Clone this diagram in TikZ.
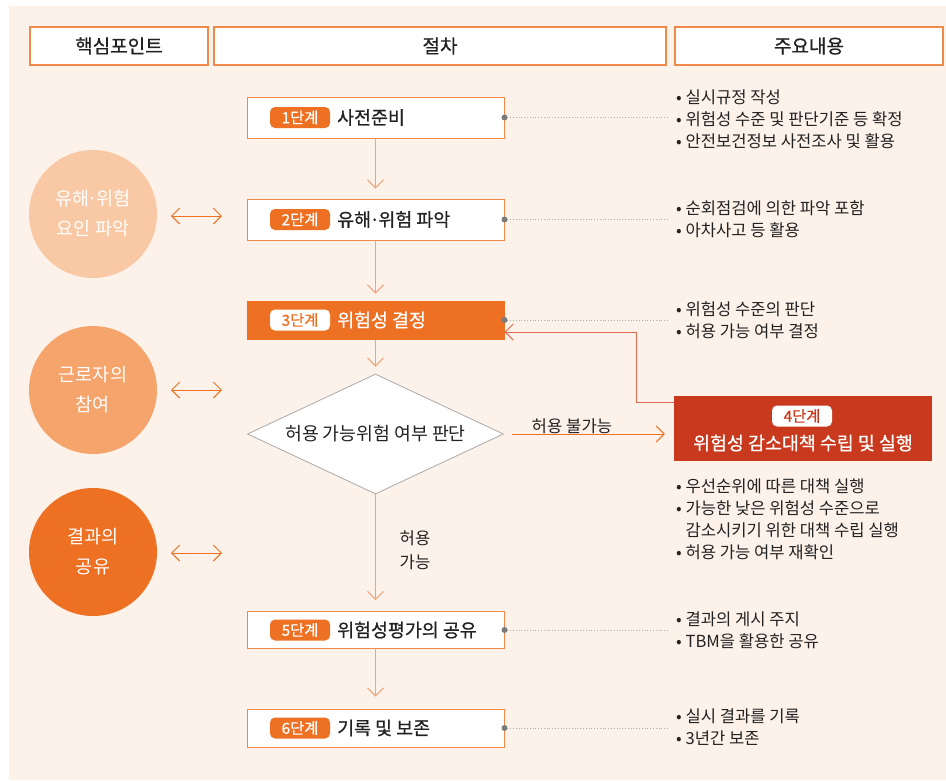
\documentclass[tikz,border=0pt]{standalone}
\usepackage{fontspec}
\setmainfont{Noto Sans CJK KR}
\newfontfamily\medfont[FakeBold=0.7]{Noto Sans CJK KR}
\usetikzlibrary{arrows.meta,shapes.geometric,calc}
\definecolor{bg}{HTML}{FDF2E9}
\definecolor{org}{HTML}{EE7023}
\definecolor{orgline}{HTML}{F08A4B}
\definecolor{lightarr}{HTML}{F3A378}
\definecolor{redbox}{HTML}{C9391E}
\definecolor{retline}{HTML}{DE6A50}
\definecolor{cone}{HTML}{F9C9A5}
\definecolor{ctwo}{HTML}{F5A46C}
\definecolor{txt}{HTML}{222222}
\definecolor{dotc}{HTML}{7A7A7A}
\definecolor{diag}{HTML}{AAAAAA}
\newcommand{\mdot}{\kern-0.08em·\kern-0.08em}
\begin{document}
\begin{tikzpicture}[x=1pt,y=-1pt,
  hdr/.style={draw=orgline,line width=1.1pt,fill=white,minimum width=#1,minimum height=38pt,inner sep=0pt,text=txt,font=\fontsize{19}{22}\selectfont\medfont},
  stepbox/.style={draw=orgline,line width=1pt,fill=white,minimum width=257pt,minimum height=#1,inner sep=0pt},
  badge/.style={fill=org,rounded corners=5pt,minimum width=60pt,minimum height=21pt,inner sep=0pt,text=white,font=\fontsize{15.3}{17}\selectfont\medfont},
  wbadge/.style={fill=white,rounded corners=5pt,minimum width=60pt,minimum height=21pt,inner sep=0pt,text=org,font=\fontsize{15.3}{17}\selectfont\medfont},
  title/.style={anchor=west,inner sep=0pt,text=txt,font=\fontsize{18.4}{20}\selectfont\medfont},
  bul/.style={anchor=west,inner sep=0pt,align=left,text=txt,font=\fontsize{16.6}{22}\selectfont},
  varrow/.style={draw=lightarr,line width=1pt,-{Straight Barb[length=8pt,width=16pt]}},
  dblarrow/.style={draw=org,line width=1pt,{Straight Barb[length=8pt,width=16pt]}-{Straight Barb[length=8pt,width=16pt]}},
  dotline/.style={draw=dotc!60,line width=0.8pt,dotted},
  circ/.style={circle,minimum size=128pt,inner sep=0pt,text=white,align=center,font=\fontsize{18.5}{30}\selectfont}
]
\useasboundingbox (0,0) rectangle (946,780);
\fill[bg] (9,6) rectangle (946,780);

% headers
\node[hdr=178pt] (h1) at (119,46) {핵심포인트};
\node[hdr=452pt] (h2) at (440,46) {절차};
\node[hdr=268pt] (h3) at (809,46) {주요내용};

% circles
\node[circ,fill=cone] (c1) at (93,214) {유해\mdot 위험\\요인 파악};
\node[circ,fill=ctwo] (c2) at (93,390) {근로자의\\참여};
\node[circ,fill=org] (c3) at (93,552) {결과의\\공유};
\coordinate (d1a) at (171,216); \coordinate (d1b) at (222,216);
\coordinate (d2a) at (171,390); \coordinate (d2b) at (222,390);
\coordinate (d3a) at (171,553); \coordinate (d3b) at (222,553);
\draw[dblarrow] (d1a) -- (d1b);
\draw[dblarrow] (d2a) -- (d2b);
\draw[dblarrow] (d3a) -- (d3b);

% step boxes
\node[stepbox=41pt] (s1) at (375.5,117.5) {};
\node[badge] (b1) at (300,117.5) {1단계};
\node[title] (t1) at (337,117.5) {사전준비};

\node[stepbox=41pt] (s2) at (375.5,219.5) {};
\node[badge] (b2) at (300,219.5) {2단계};
\node[title] (t2) at (337,219.5) {유해\mdot 위험 파악};

\node[stepbox=38pt,fill=org,draw=org] (s3) at (375.5,320) {};
\node[wbadge] (b3) at (300,320) {3단계};
\node[title,text=white] (t3) at (337,320) {위험성 결정};

\node[diamond,draw=diag,fill=white,line width=0.8pt,minimum width=256pt,minimum height=120pt,aspect=2.13,inner sep=0pt,text=txt,font=\fontsize{18.3}{20}\selectfont] (dm) at (375.5,434) {허용 가능위험 여부 판단};

\node[stepbox=37pt] (s5) at (375.5,630) {};
\node[badge] (b5) at (300,630) {5단계};
\node[title] (t5) at (337,630) {위험성평가의 공유};

\node[stepbox=38pt] (s6) at (375.5,728) {};
\node[badge] (b6) at (300,728) {6단계};
\node[title] (t6) at (337,728) {기록 및 보존};

% 4th step
\node[fill=redbox,minimum width=258pt,minimum height=65pt,inner sep=0pt] (s4) at (803,428.5) {};
\node[wbadge,text=redbox] (b4) at (802,416) {4단계};
\node[inner sep=0pt,text=white,font=\fontsize{18.4}{20}\selectfont\medfont] (t4) at (803,443) {위험성 감소대책 수립 및 실행};

% vertical arrows
\draw[varrow,shorten >=10pt] (s1.south) -- (s2.north);
\draw[varrow,shorten >=7pt] (s2.south) -- (s3.north);
\draw[varrow,shorten >=7pt] (s3.south) -- (dm.north);
\draw[varrow,shorten >=11pt] (dm.south) -- (s5.north);
\draw[varrow,shorten >=12pt] (s5.south) -- (s6.north);

% horizontal
\draw[draw=org,line width=1pt,-{Straight Barb[length=8pt,width=16pt]},shorten <=8pt,shorten >=9pt] (dm.east) -- (s4.west |- dm.east);
\node[inner sep=0pt,text=txt,font=\fontsize{16.7}{18}\selectfont] (lno) at (572,426) {허용 불가능};
\node[inner sep=0pt,align=center,text=txt,font=\fontsize{16.7}{24}\selectfont] (lyes) at (415,550) {허용\\가능};

% return arrow
\draw[draw=retline,line width=1pt,-{Straight Barb[length=8pt,width=16pt]}] ($(s4.north west)+(0,7)$) -| ($(s3.east)+(132,12)$) -- ($(s3.east)+(0,12)$);

% dots and dotted lines
\foreach \s in {s1,s2,s3,s5,s6}{
  \coordinate (\s e) at ($(\s.east)+(164,0)$);
  \draw[dotline] (\s.east) -- (\s e);
  \fill[dotc] (\s.east) circle (3);
}

% bullets
\node[bul] (n1) at (676,119) {• 실시규정 작성\\• 위험성 수준 및 판단기준 등 확정\\• 안전보건정보 사전조사 및 활용};
\node[bul] (n2) at (676,219) {• 순회점검에 의한 파악 포함\\• 아차사고 등 활용};
\node[bul] (n3) at (676,320) {• 위험성 수준의 판단\\• 허용 가능 여부 결정};
\node[bul] (n4) at (676,519.5) {• 우선순위에 따른 대책 실행\\• 가능한 낮은 위험성 수준으로\\\phantom{• }감소시키기 위한 대책 수립 실행\\• 허용 가능 여부 재확인};
\node[bul] (n5) at (676,630) {• 결과의 게시 주지\\• TBM을 활용한 공유};
\node[bul] (n6) at (676,727) {• 실시 결과를 기록\\• 3년간 보존};
\end{tikzpicture}
\end{document}
